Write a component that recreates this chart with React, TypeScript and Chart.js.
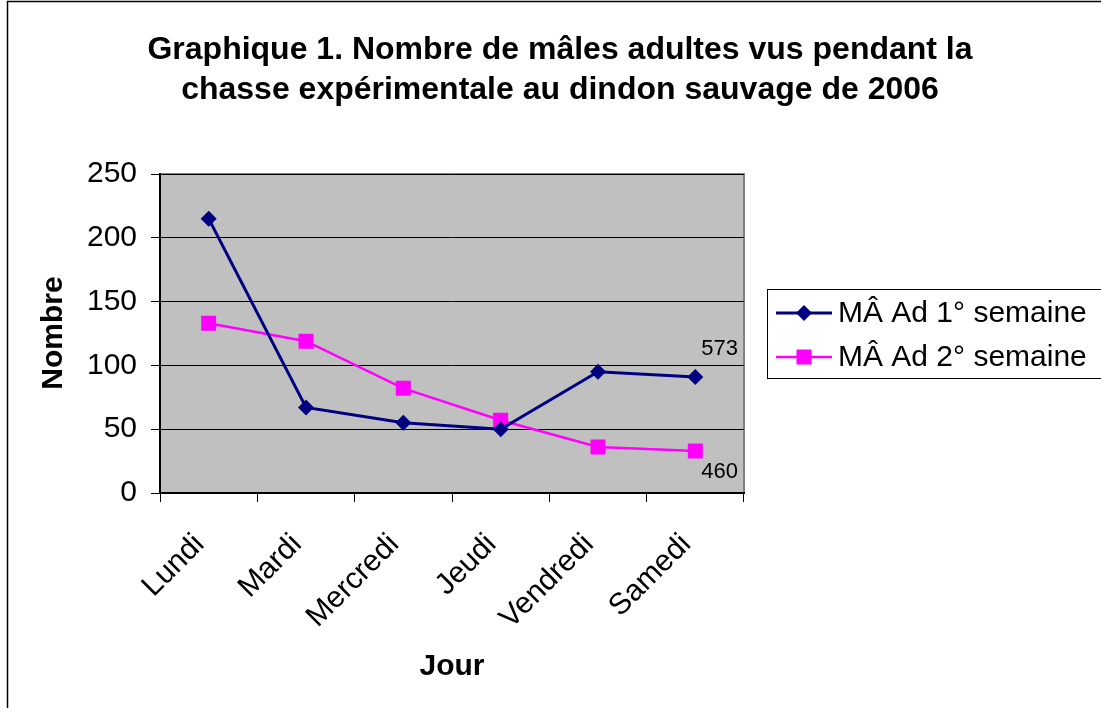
import React, { useEffect, useRef } from 'react';
import { Chart, registerables } from 'chart.js';

Chart.register(...registerables);

const categories = ['Lundi', 'Mardi', 'Mercredi', 'Jeudi', 'Vendredi', 'Samedi'];
const week1 = [215, 67, 55, 50, 95, 91];
const week2 = [133, 119, 82, 57, 36, 33];
const seriesNames = ['MÂ Ad 1° semaine', 'MÂ Ad 2° semaine'];
const seriesColors = ['#000080', '#FF00FF'];
const yMin = 0;
const yMax = 250;
const yStep = 50;
const titleLines = [
  'Graphique 1. Nombre de mâles adultes vus pendant la',
  'chasse expérimentale au dindon sauvage de 2006',
];
const yTitle = 'Nombre';
const xTitle = 'Jour';

const FONT = '"Liberation Sans", Arial, Helvetica, sans-serif';

const sum = (a: number[]) => a.reduce((s, v) => s + v, 0);

function drawDiamond(ctx: CanvasRenderingContext2D, x: number, y: number, r: number) {
  ctx.beginPath();
  ctx.moveTo(x, y - r);
  ctx.lineTo(x + r, y);
  ctx.lineTo(x, y + r);
  ctx.lineTo(x - r, y);
  ctx.closePath();
  ctx.fill();
}

const extrasPlugin = {
  id: 'extras',
  beforeDraw(chart: any) {
    const { ctx, chartArea: a } = chart;
    ctx.save();
    ctx.fillStyle = '#ffffff';
    ctx.fillRect(0, 0, chart.width, chart.height);
    // outer frame
    ctx.strokeStyle = '#000000';
    ctx.lineWidth = 1.5;
    ctx.strokeRect(7.5, 1.5, chart.width + 20, chart.height + 20);
    // plot area
    ctx.fillStyle = '#C0C0C0';
    ctx.fillRect(a.left, a.top, a.right - a.left, a.bottom - a.top);
    ctx.strokeStyle = '#808080';
    ctx.lineWidth = 2;
    ctx.strokeRect(a.left, a.top, a.right - a.left, a.bottom - a.top);
    ctx.restore();
  },
  afterDraw(chart: any) {
    const { ctx, chartArea: a } = chart;
    ctx.save();
    ctx.fillStyle = '#000000';
    // title
    ctx.font = `bold 32px ${FONT}`;
    ctx.textAlign = 'center';
    ctx.textBaseline = 'alphabetic';
    ctx.fillText(titleLines[0], 560, 59);
    ctx.fillText(titleLines[1], 560, 99);
    // axis titles
    ctx.font = `bold 30px ${FONT}`;
    ctx.fillText(xTitle, (a.left + a.right) / 2, 675);
    ctx.save();
    ctx.translate(54, 333);
    ctx.rotate(-Math.PI / 2);
    ctx.textBaseline = 'middle';
    ctx.fillText(yTitle, 0, 0);
    ctx.restore();

    // data labels (weekly totals) at last point
    ctx.font = `22px ${FONT}`;
    ctx.textAlign = 'left';
    const m0 = chart.getDatasetMeta(0).data;
    const m1 = chart.getDatasetMeta(1).data;
    const p0 = m0[m0.length - 1];
    const p1 = m1[m1.length - 1];
    ctx.fillText(String(sum(week1)), p0.x + 6, p0.y - 22);
    ctx.fillText(String(sum(week2)), p1.x + 6, p1.y + 27);

    // legend
    ctx.strokeStyle = '#000000';
    ctx.lineWidth = 1;
    ctx.strokeRect(767.5, 289.5, 400, 89);
    const rows = [313, 357];
    ctx.font = `30px ${FONT}`;
    ctx.textBaseline = 'middle';
    rows.forEach((ry, i) => {
      ctx.strokeStyle = seriesColors[i];
      ctx.lineWidth = i === 0 ? 3 : 2.5;
      ctx.beginPath();
      ctx.moveTo(776, ry);
      ctx.lineTo(832, ry);
      ctx.stroke();
      ctx.fillStyle = seriesColors[i];
      if (i === 0) drawDiamond(ctx, 804, ry, 8);
      else ctx.fillRect(804 - 7.5, ry - 7.5, 15, 15);
      ctx.fillStyle = '#000000';
      ctx.fillText(seriesNames[i], 838, ry + 1);
    });
    ctx.restore();
  },
};

export default function App() {
  const ref = useRef<HTMLCanvasElement | null>(null);
  useEffect(() => {
    if (!ref.current) return;
    const chart = new Chart(ref.current, {
      type: 'line',
      data: {
        labels: categories,
        datasets: [
          {
            label: seriesNames[0],
            data: week1,
            borderColor: seriesColors[0],
            backgroundColor: seriesColors[0],
            borderWidth: 3,
            pointStyle: 'rectRot',
            pointRadius: 8,
            pointBorderWidth: 0,
            pointBackgroundColor: seriesColors[0],
            tension: 0,
            fill: false,
          },
          {
            label: seriesNames[1],
            data: week2,
            borderColor: seriesColors[1],
            backgroundColor: seriesColors[1],
            borderWidth: 2.5,
            pointStyle: 'rect',
            pointRadius: 10.6,
            pointBorderWidth: 0,
            pointBackgroundColor: seriesColors[1],
            tension: 0,
            fill: false,
          },
        ],
      },
      options: {
        responsive: false,
        animation: false,
        devicePixelRatio: 1,
        layout: { padding: { top: 174, right: 357, bottom: 0, left: 0 } },
        plugins: {
          legend: { display: false },
          title: { display: false },
          tooltip: { enabled: false },
        },
        scales: {
          x: {
            type: 'category',
            offset: true,
            grid: {
              offset: true,
              drawOnChartArea: false,
              drawTicks: true,
              tickLength: 9,
              color: '#000000',
              lineWidth: 1,
            },
            border: { display: true, color: '#000000', width: 2 },
            ticks: {
              minRotation: 45,
              maxRotation: 45,
              autoSkip: false,
              padding: 25,
              labelOffset: -9,
              color: '#000000',
              font: { family: FONT, size: 30 },
            },
            afterFit: (scale: any) => {
              scale.height = 215;
            },
          },
          y: {
            min: yMin,
            max: yMax,
            ticks: {
              stepSize: yStep,
              padding: 14,
              color: '#000000',
              font: { family: FONT, size: 30 },
            },
            grid: {
              color: '#000000',
              lineWidth: 1,
              drawTicks: true,
              tickLength: 9,
            },
            border: { display: true, color: '#000000', width: 2 },
            afterFit: (scale: any) => {
              scale.width = 160;
            },
          },
        },
      } as any,
      plugins: [extrasPlugin],
    });
    return () => chart.destroy();
  }, []);
  return (
    <div style={{ position: 'fixed', left: 0, top: 0, width: 1101, height: 708, background: '#fff' }}>
      <canvas ref={ref} width={1101} height={708} style={{ display: 'block' }} />
    </div>
  );
}
